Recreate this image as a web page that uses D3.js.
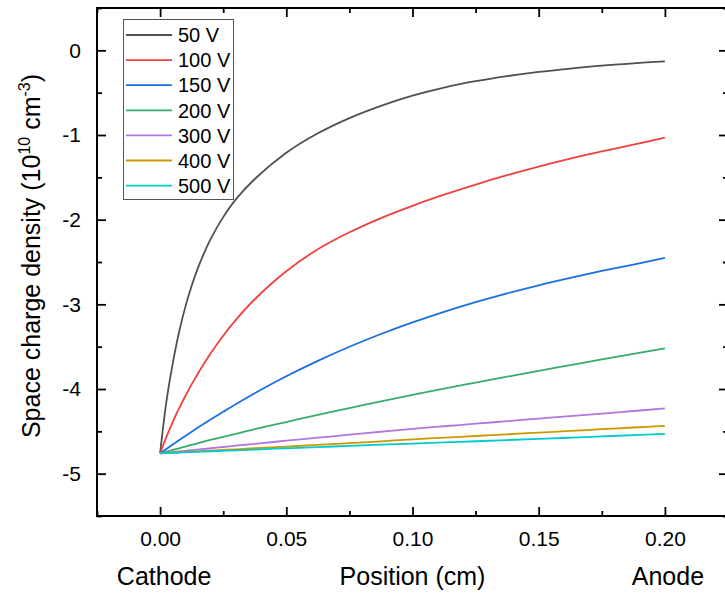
<!DOCTYPE html>
<html>
<head>
<meta charset="utf-8">
<script src="https://cdn.jsdelivr.net/npm/d3@7"></script>
<style>
  body { margin: 0; background: #fff; }
  svg { display: block; font-family: Arial, "Liberation Sans", sans-serif; }
</style>
</head>
<body>
<svg id="chart" width="725" height="597"></svg>
<script>
// position (cm), shared by all curves
const positions = [0, 0.0025, 0.005, 0.0075, 0.01, 0.0125, 0.015, 0.0175, 0.02, 0.025, 0.03, 0.0375,
  0.05, 0.0625, 0.075, 0.0875, 0.1, 0.1125, 0.125, 0.1375, 0.15, 0.1625, 0.175, 0.1875, 0.2];

const voltages = ["50 V", "100 V", "150 V", "200 V", "300 V", "400 V", "500 V"];
const colors = ["#515151", "#f14040", "#1a6fdf", "#37ad6b", "#b177de", "#cc9900", "#00cbcc"];

// space charge density (1e10 cm^-3)
const v50 = [-4.76, -4.15, -3.70, -3.33, -3.03, -2.78, -2.57, -2.39, -2.23, -1.97, -1.76, -1.52,
  -1.21, -0.98, -0.80, -0.655, -0.535, -0.44, -0.365, -0.305, -0.255, -0.215, -0.18, -0.153, -0.13];
const v100 = [-4.76, -4.565, -4.39, -4.23, -4.083, -3.945, -3.816, -3.695, -3.581, -3.371, -3.184, -2.94,
  -2.609, -2.349, -2.149, -1.981, -1.836, -1.705, -1.585, -1.475, -1.374, -1.28, -1.194, -1.114, -1.03];
const v150 = [-4.76, -4.708, -4.656, -4.605, -4.555, -4.505, -4.456, -4.408, -4.361, -4.269, -4.179, -4.05,
  -3.85, -3.668, -3.501, -3.35, -3.213, -3.088, -2.974, -2.87, -2.775, -2.688, -2.606, -2.531, -2.45];
const v200 = [-4.76, -4.74, -4.72, -4.70, -4.68, -4.66, -4.64, -4.62, -4.60, -4.565, -4.53, -4.475,
  -4.39, -4.305, -4.225, -4.145, -4.07, -3.995, -3.925, -3.855, -3.785, -3.718, -3.651, -3.585, -3.52];
const v300 = [-4.76, -4.752, -4.745, -4.738, -4.73, -4.722, -4.715, -4.708, -4.70, -4.685, -4.67, -4.648,
  -4.61, -4.575, -4.54, -4.505, -4.47, -4.44, -4.41, -4.38, -4.35, -4.32, -4.29, -4.26, -4.23];
const v400 = [-4.76, -4.756, -4.752, -4.748, -4.744, -4.74, -4.736, -4.732, -4.728, -4.72, -4.712, -4.70,
  -4.68, -4.66, -4.64, -4.618, -4.595, -4.575, -4.555, -4.535, -4.515, -4.495, -4.475, -4.455, -4.435];
const v500 = [-4.76, -4.757, -4.754, -4.751, -4.748, -4.745, -4.742, -4.739, -4.736, -4.73, -4.724, -4.715,
  -4.70, -4.686, -4.672, -4.658, -4.645, -4.631, -4.617, -4.603, -4.59, -4.575, -4.56, -4.545, -4.53];

const seriesValues = [v50, v100, v150, v200, v300, v400, v500];

const xMajor = [0, 0.05, 0.1, 0.15, 0.2];
const xMinor = [-0.025, 0.025, 0.075, 0.125, 0.175, 0.225];
const yMajor = [0, -1, -2, -3, -4, -5];
const yMinor = [0.5, -0.5, -1.5, -2.5, -3.5, -4.5, -5.5];

const plotLeft = 97, plotRight = 728, plotTop = 8, plotBottom = 516;

const svg = d3.select("#chart");

const x = d3.scaleLinear().domain([-0.025, 0.225]).range([plotLeft, plotRight]);
const y = d3.scaleLinear().domain([-5.5, 0.5]).range([plotBottom, plotTop]);

// curves
const line = d3.line()
  .x((d) => x(d[0]))
  .y((d) => y(d[1]))
  .curve(d3.curveCatmullRom.alpha(0.5));

svg.append("g")
  .selectAll("path")
  .data(seriesValues)
  .enter()
  .append("path")
  .attr("d", (vals) => line(positions.map((p, i) => [p, vals[i]])))
  .attr("fill", "none")
  .attr("stroke", (d, i) => colors[i])
  .attr("stroke-width", 1.8);

// axes, ticks pointing inward on all four sides
function styleAxis(g) {
  g.select(".domain").remove();
  g.selectAll(".tick line").attr("stroke", "#000").attr("stroke-width", 1.8);
  g.selectAll("text").attr("font-size", 21).attr("fill", "#000");
}

svg.append("g")
  .attr("transform", `translate(0,${plotBottom})`)
  .call(d3.axisBottom(x).tickValues(xMajor).tickFormat((d) => d.toFixed(2)).tickSize(-9).tickPadding(15))
  .call(styleAxis);
svg.append("g")
  .attr("transform", `translate(0,${plotBottom})`)
  .call(d3.axisBottom(x).tickValues(xMinor).tickFormat("").tickSize(-5))
  .call(styleAxis);
svg.append("g")
  .attr("transform", `translate(0,${plotTop})`)
  .call(d3.axisTop(x).tickValues(xMajor).tickFormat("").tickSize(-9))
  .call(styleAxis);
svg.append("g")
  .attr("transform", `translate(0,${plotTop})`)
  .call(d3.axisTop(x).tickValues(xMinor).tickFormat("").tickSize(-5))
  .call(styleAxis);

svg.append("g")
  .attr("transform", `translate(${plotLeft},0)`)
  .call(d3.axisLeft(y).tickValues(yMajor).tickFormat((d) => String(d)).tickSize(-9).tickPadding(16))
  .call(styleAxis);
svg.append("g")
  .attr("transform", `translate(${plotLeft},0)`)
  .call(d3.axisLeft(y).tickValues(yMinor).tickFormat("").tickSize(-5))
  .call(styleAxis);
svg.append("g")
  .attr("transform", `translate(${plotRight},0)`)
  .call(d3.axisRight(y).tickValues(yMajor).tickFormat("").tickSize(-9))
  .call(styleAxis);
svg.append("g")
  .attr("transform", `translate(${plotRight},0)`)
  .call(d3.axisRight(y).tickValues(yMinor).tickFormat("").tickSize(-5))
  .call(styleAxis);

// frame
svg.append("rect")
  .attr("x", plotLeft)
  .attr("y", plotTop)
  .attr("width", plotRight - plotLeft)
  .attr("height", plotBottom - plotTop)
  .attr("fill", "none")
  .attr("stroke", "#000")
  .attr("stroke-width", 2);

// axis titles
svg.append("text")
  .attr("x", x(0) + 4)
  .attr("y", 585)
  .attr("text-anchor", "middle")
  .attr("font-size", 25)
  .text("Cathode");
svg.append("text")
  .attr("x", x(0.1))
  .attr("y", 585)
  .attr("text-anchor", "middle")
  .attr("font-size", 25)
  .text("Position (cm)");
svg.append("text")
  .attr("x", x(0.2) + 3)
  .attr("y", 585)
  .attr("text-anchor", "middle")
  .attr("font-size", 25)
  .text("Anode");

const yTitle = svg.append("text")
  .attr("transform", `translate(40,${(plotTop + plotBottom) / 2 - 6}) rotate(-90)`)
  .attr("text-anchor", "middle")
  .attr("font-size", 25);
yTitle.append("tspan").text("Space charge density (10");
yTitle.append("tspan").attr("font-size", 16).attr("dy", -10).text("10");
yTitle.append("tspan").attr("dy", 10).text(" cm");
yTitle.append("tspan").attr("font-size", 16).attr("dy", -10).text("-3");
yTitle.append("tspan").attr("dy", 10).text(")");

// legend
const legend = svg.append("g");
legend.append("rect")
  .attr("x", 123.5)
  .attr("y", 19.5)
  .attr("width", 110)
  .attr("height", 180)
  .attr("fill", "#fff")
  .attr("stroke", "#555")
  .attr("stroke-width", 1);

const rows = legend.selectAll(".row")
  .data(voltages)
  .enter()
  .append("g")
  .classed("row", true)
  .attr("transform", (d, i) => `translate(0,${35 + i * 25.1})`);
rows.append("line")
  .attr("x1", 126)
  .attr("x2", 172)
  .attr("stroke", (d, i) => colors[i])
  .attr("stroke-width", 1.8);
rows.append("text")
  .attr("x", 178)
  .attr("dy", "0.36em")
  .attr("font-size", 20)
  .text((d) => d);
</script>
</body>
</html>
